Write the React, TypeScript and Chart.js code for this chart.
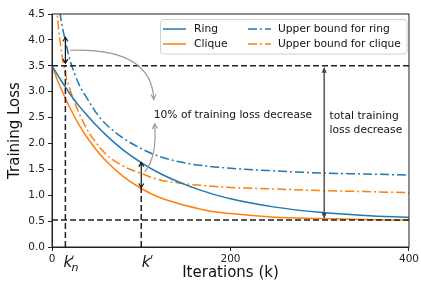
import React, { useEffect, useRef } from "react";
import { Chart, registerables } from "chart.js";

Chart.register(...registerables);

// ---- data ----
const iterations = [0, 5, 10, 15, 20, 30, 40, 50, 60, 80, 100, 120, 150, 175, 200, 250, 300, 350, 400];
const ringLoss = [3.5, 3.36, 3.22, 3.09, 2.96, 2.73, 2.53, 2.34, 2.17, 1.87, 1.63, 1.43, 1.2, 1.05, 0.93, 0.77, 0.67, 0.61, 0.57];
const cliqueLoss = [3.5, 3.27, 3.06, 2.87, 2.69, 2.37, 2.1, 1.87, 1.67, 1.36, 1.13, 0.96, 0.8, 0.7, 0.645, 0.575, 0.55, 0.53, 0.52];
const ringUpper = [6.5, 5.1, 4.4, 3.98, 3.62, 3.15, 2.85, 2.58, 2.38, 2.1, 1.9, 1.75, 1.62, 1.56, 1.52, 1.47, 1.43, 1.41, 1.39];
const cliqueUpper = [7.0, 4.75, 3.85, 3.35, 3.05, 2.6, 2.25, 2.0, 1.8, 1.56, 1.42, 1.3, 1.22, 1.18, 1.15, 1.12, 1.09, 1.07, 1.05];

const seriesLabels = ["Ring", "Clique", "Upper bound for ring", "Upper bound for clique"];
const xTicks = [0, 200, 400];
const yTicks = [0, 0.5, 1, 1.5, 2, 2.5, 3, 3.5, 4, 4.5];

const initialLoss = 3.5;
const finalLoss = 0.52;
const kN = 15;
const kPrime = 100;
const kNArrow = [3.55, 4.05];
const kPrimeArrow = [1.15, 1.63];
const totalArrowK = 305;
const tenPercentText = "10% of training loss decrease";
const totalTextLines = ["total training", "loss decrease"];

const FONT = '"DejaVu Sans", sans-serif';
const BLUE = "#1f77b4";
const ORANGE = "#ff7f0e";

const pts = (ys: number[]) => iterations.map((k, i) => ({ x: k, y: ys[i] }));

function head(ctx: CanvasRenderingContext2D, tx: number, ty: number, dx: number, dy: number, len: number, hw: number, filled: boolean) {
  const n = Math.hypot(dx, dy) || 1;
  const ux = dx / n, uy = dy / n;
  const bx = tx - ux * len, by = ty - uy * len;
  const px = -uy * hw, py = ux * hw;
  ctx.beginPath();
  ctx.moveTo(bx + px, by + py);
  ctx.lineTo(tx, ty);
  ctx.lineTo(bx - px, by - py);
  if (filled) {
    ctx.closePath();
    ctx.fill();
  } else {
    ctx.stroke();
  }
}

const annotationPlugin = {
  id: "annotations",
  afterDatasetsDraw(chart: any) {
    const { ctx, chartArea: ca } = chart;
    const xs = chart.scales.x, ys = chart.scales.y;
    const X = (v: number) => xs.getPixelForValue(v);
    const Y = (v: number) => ys.getPixelForValue(v);
    const line = (a: number, b: number, c: number, d: number) => {
      ctx.beginPath();
      ctx.moveTo(a, b);
      ctx.lineTo(c, d);
      ctx.stroke();
    };
    ctx.save();
    ctx.beginPath();
    ctx.rect(ca.left, ca.top, ca.width, ca.height);
    ctx.clip();

    // dashed reference lines
    ctx.strokeStyle = "#222";
    ctx.lineWidth = 1.5;
    ctx.setLineDash([6, 3]);
    line(ca.left, Y(initialLoss), ca.right, Y(initialLoss));
    line(ca.left, Y(finalLoss), ca.right, Y(finalLoss));
    line(X(kN), ca.bottom, X(kN), Y(initialLoss));
    line(X(kPrime), ca.bottom, X(kPrime), Y(kPrimeArrow[0]));
    ctx.setLineDash([]);

    // black double arrows
    ctx.strokeStyle = "#111";
    ctx.fillStyle = "#111";
    ctx.lineWidth = 1.2;
    for (const [k, lo, hi] of [[kN, kNArrow[0], kNArrow[1]], [kPrime, kPrimeArrow[0], kPrimeArrow[1]]]) {
      const x = X(k);
      line(x, Y(lo), x, Y(hi));
      head(ctx, x, Y(hi), 0, -1, 4, 2.5, false);
      head(ctx, x, Y(lo), 0, 1, 4, 2.5, false);
    }

    // total decrease arrow
    ctx.strokeStyle = "#555";
    ctx.fillStyle = "#444";
    ctx.lineWidth = 1.5;
    const tx = X(totalArrowK);
    line(tx, Y(initialLoss) + 4, tx, Y(finalLoss) - 4);
    head(ctx, tx, Y(initialLoss) + 1, 0, -1, 6, 2.5, true);
    head(ctx, tx, Y(finalLoss) - 1, 0, 1, 6, 2.5, true);

    // gray curved arrows
    ctx.strokeStyle = "#9a9a9a";
    ctx.lineWidth = 1.2;
    const curve = (s: number[], c: number[], e: number[]) => {
      const sx = X(s[0]), sy = Y(s[1]), cx = X(c[0]), cy = Y(c[1]), ex = X(e[0]), ey = Y(e[1]);
      ctx.beginPath();
      ctx.moveTo(sx, sy);
      ctx.quadraticCurveTo(cx, cy, ex, ey);
      ctx.stroke();
      head(ctx, ex, ey, ex - cx, ey - cy, 5, 2.5, false);
    };
    curve([20, 3.8], [112, 3.85], [114, 2.85]);
    curve([104, 1.45], [118, 1.75], [115, 2.38]);

    // texts
    ctx.fillStyle = "#111";
    ctx.font = `10.7px ${FONT}`;
    ctx.textBaseline = "middle";
    ctx.textAlign = "left";
    ctx.fillText(tenPercentText, X(114), Y(2.55));
    ctx.fillText(totalTextLines[0], X(311), Y(2.53));
    ctx.fillText(totalTextLines[1], X(311), Y(2.26));
    ctx.restore();

    // axes box
    ctx.save();
    ctx.strokeStyle = "#222";
    ctx.lineWidth = 1;
    ctx.strokeRect(ca.left, ca.top, ca.width, ca.height);
    ctx.restore();

    // legend
    ctx.save();
    const bx = 160.5, by = 19.5, bw = 246.5, bh = 34.5;
    ctx.fillStyle = "rgba(255,255,255,0.85)";
    ctx.strokeStyle = "#d0d0d0";
    ctx.lineWidth = 1;
    ctx.beginPath();
    ctx.roundRect(bx, by, bw, bh, 3);
    ctx.fill();
    ctx.stroke();
    const pos = [
      [163, 29],
      [163, 44],
      [248, 29],
      [248, 44],
    ];
    chart.data.datasets.forEach((ds: any, i: number) => {
      const [lx, ly] = pos[i];
      ctx.strokeStyle = ds.borderColor;
      ctx.lineWidth = 1.5;
      ctx.setLineDash(ds.borderDash || []);
      line(lx, ly, lx + 23, ly);
      ctx.setLineDash([]);
      ctx.fillStyle = "#111";
      ctx.font = `10.7px ${FONT}`;
      ctx.textBaseline = "middle";
      ctx.fillText(ds.label, lx + (i < 2 ? 31 : 30), ly);
    });
    ctx.restore();
  },
  afterDraw(chart: any) {
    const { ctx, chartArea: ca } = chart;
    const X = (v: number) => chart.scales.x.getPixelForValue(v);
    ctx.save();
    ctx.fillStyle = "#111";
    ctx.strokeStyle = "#111";
    ctx.lineWidth = 1;
    ctx.textBaseline = "alphabetic";
    ctx.textAlign = "left";
    const base = ca.bottom + 20;
    const prime = (px: number, py: number) => {
      ctx.beginPath();
      ctx.moveTo(px + 1.5, py);
      ctx.lineTo(px, py + 4);
      ctx.stroke();
    };
    // k'_n
    let x0 = X(kN) - 2;
    ctx.font = `italic 15px ${FONT}`;
    ctx.fillText("k", x0, base);
    prime(x0 + 8.5, base - 11.5);
    ctx.font = `italic 11px ${FONT}`;
    ctx.fillText("n", x0 + 8, base + 4);
    // k'
    x0 = X(kPrime) + 0.5;
    ctx.font = `italic 15px ${FONT}`;
    ctx.fillText("k", x0, base);
    prime(x0 + 9, base - 12);
    ctx.restore();
  },
};

export default function App() {
  const ref = useRef<HTMLCanvasElement>(null);
  useEffect(() => {
    const canvas = ref.current;
    if (!canvas) return;
    const dash = [9, 3, 2, 3];
    const chart = new Chart(canvas, {
      type: "line",
      data: {
        datasets: [
          { label: seriesLabels[0], data: pts(ringLoss), borderColor: BLUE, borderWidth: 1.5, pointRadius: 0, cubicInterpolationMode: "monotone", fill: false },
          { label: seriesLabels[1], data: pts(cliqueLoss), borderColor: ORANGE, borderWidth: 1.5, pointRadius: 0, cubicInterpolationMode: "monotone", fill: false },
          { label: seriesLabels[2], data: pts(ringUpper), borderColor: BLUE, borderWidth: 1.5, borderDash: dash, pointRadius: 0, cubicInterpolationMode: "monotone", fill: false },
          { label: seriesLabels[3], data: pts(cliqueUpper), borderColor: ORANGE, borderWidth: 1.5, borderDash: dash, pointRadius: 0, cubicInterpolationMode: "monotone", fill: false },
        ],
      },
      options: {
        responsive: false,
        animation: false,
        events: [],
        layout: { padding: { top: 14, right: 10, left: 0, bottom: 0 } },
        plugins: { legend: { display: false }, tooltip: { enabled: false } },
        scales: {
          x: {
            type: "linear",
            min: 0,
            max: 400,
            afterBuildTicks: (s: any) => {
              s.ticks = xTicks.map((v) => ({ value: v }));
            },
            ticks: { font: { family: FONT, size: 10.5 }, color: "#222", padding: 2, maxRotation: 0 },
            grid: { drawOnChartArea: false, drawTicks: true, tickLength: 4, color: "#222" },
            border: { display: true, color: "#222", width: 1 },
            title: { display: true, text: "Iterations (k)", font: { family: FONT, size: 15 }, color: "#111", padding: { top: 0, bottom: 2 } },
            afterFit: (s: any) => {
              s.height = 37;
            },
          },
          y: {
            min: 0,
            max: 4.5,
            afterBuildTicks: (s: any) => {
              s.ticks = yTicks.map((v) => ({ value: v }));
            },
            ticks: { font: { family: FONT, size: 10.5 }, color: "#222", padding: 3, callback: (v: any) => Number(v).toFixed(1) },
            grid: { drawOnChartArea: false, drawTicks: true, tickLength: 4, color: "#222" },
            border: { display: true, color: "#222", width: 1 },
            title: { display: true, text: "Training Loss", font: { family: FONT, size: 15 }, color: "#111", padding: { top: 6, bottom: 0 } },
            afterFit: (s: any) => {
              s.width = 52;
            },
          },
        },
      },
      plugins: [annotationPlugin],
    } as any);
    return () => chart.destroy();
  }, []);
  return (
    <div style={{ position: "fixed", left: 0, top: 0, width: 421, height: 284, background: "#fff" }}>
      <canvas ref={ref} width={421} height={284} style={{ display: "block" }} />
    </div>
  );
}
